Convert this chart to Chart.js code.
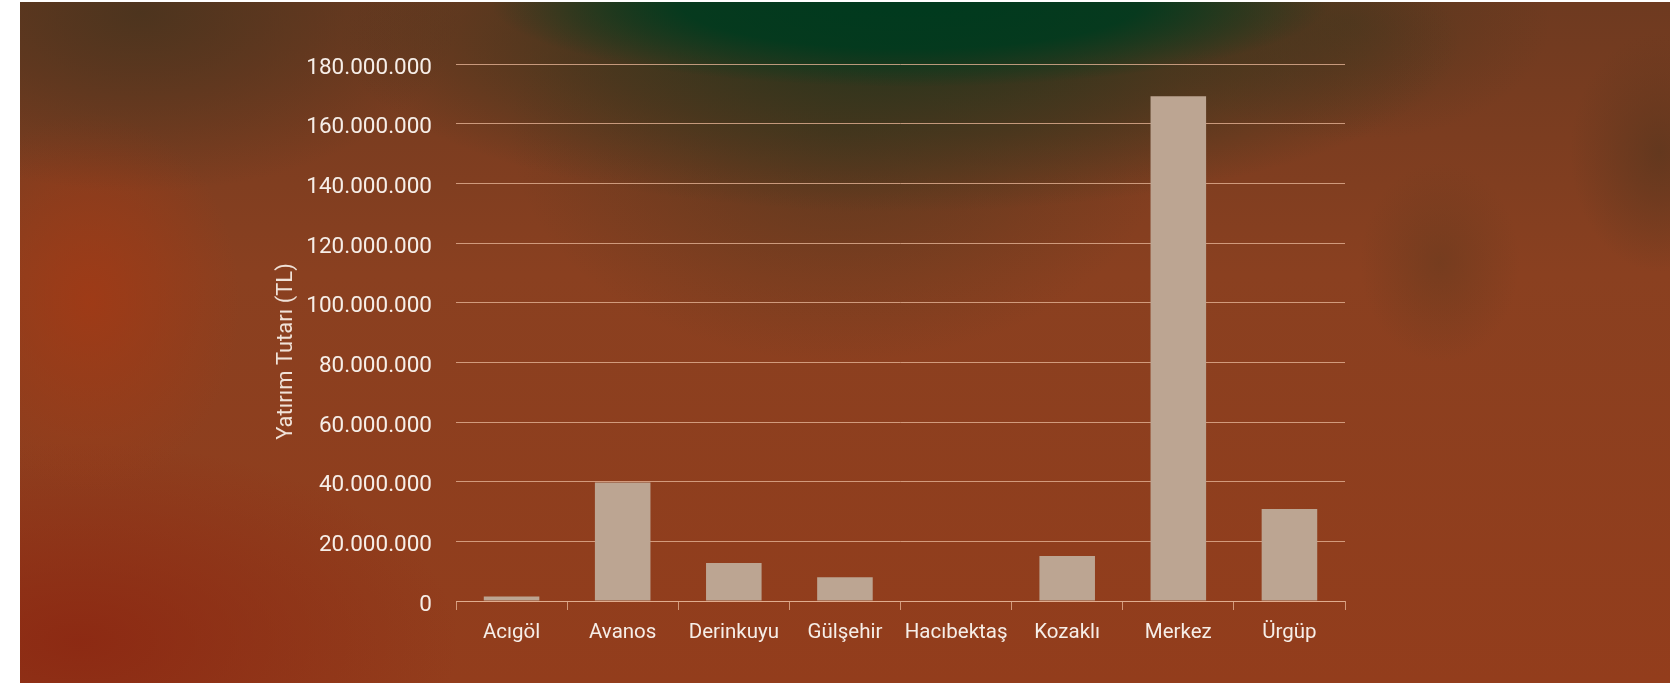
<!DOCTYPE html>
<html>
<head>
<meta charset="utf-8">
<script src="https://cdn.jsdelivr.net/npm/chart.js@4"></script>
<style>
  html, body { margin: 0; padding: 0; background: #fff; }
  #wrap {
    position: absolute; left: 20px; top: 2px; width: 1650px; height: 681px;
    background:
      radial-gradient(ellipse 420px 85px at 890px 0px, rgba(0,58,30,1) 0%, rgba(0,58,30,0.9) 55%, rgba(0,58,30,0) 100%),
      radial-gradient(ellipse 560px 170px at 880px 40px, rgba(30,52,28,0.9) 0%, rgba(50,52,28,0.6) 55%, rgba(60,50,25,0) 100%),
      radial-gradient(ellipse 330px 230px at 820px 130px, rgba(80,55,30,0.7) 0%, rgba(80,55,30,0) 100%),
      radial-gradient(ellipse 200px 120px at 1330px 20px, rgba(80,55,30,0.7) 0%, rgba(80,55,30,0) 100%),
      radial-gradient(ellipse 320px 180px at 120px 10px, rgba(75,52,30,0.95) 0%, rgba(75,52,30,0) 100%),
      radial-gradient(ellipse 150px 190px at 70px 300px, rgba(160,58,22,0.9) 0%, rgba(160,58,22,0) 100%),
      radial-gradient(ellipse 90px 120px at 1640px 150px, rgba(95,55,30,0.85) 0%, rgba(95,55,30,0) 100%),
      radial-gradient(ellipse 80px 100px at 1420px 260px, rgba(105,58,30,0.6) 0%, rgba(105,58,30,0) 100%),
      radial-gradient(ellipse 380px 200px at 60px 640px, rgba(140,40,18,0.9) 0%, rgba(140,40,18,0) 100%),
      linear-gradient(180deg, #6e3a20 0%, #8a4020 40%, #933d1c 100%);
  }
  canvas { display: block; }
</style>
</head>
<body>
<div id="wrap"><canvas id="chart" width="1650" height="681"></canvas></div>
<script>
const categories = ['Acıgöl', 'Avanos', 'Derinkuyu', 'Gülşehir', 'Hacıbektaş', 'Kozaklı', 'Merkez', 'Ürgüp'];
const investment = [1500000, 39700000, 12700000, 8000000, 0, 15100000, 169200000, 30800000];
const yTitle = 'Yatırım Tutarı (TL)';

const fmt = v => String(v).replace(/\B(?=(\d{3})+(?!\d))/g, '.');
const lineColor = 'rgba(228,178,148,0.8)';

// y title drawn by hand, it sits a bit lower than the axis centre
const yTitlePlugin = {
  id: 'yTitle',
  afterDraw(chart) {
    const { ctx, chartArea } = chart;
    const y = chart.scales.y;
    ctx.save();
    ctx.translate(y.left + 14, (chartArea.top + chartArea.bottom) / 2 + 19);
    ctx.rotate(-Math.PI / 2);
    ctx.font = '22px Roboto';
    ctx.fillStyle = '#f0e2d8';
    ctx.textAlign = 'center';
    ctx.textBaseline = 'middle';
    ctx.fillText(yTitle, 0, 0);
    ctx.restore();
  }
};

const ctx = document.getElementById('chart').getContext('2d');
new Chart(ctx, {
  type: 'bar',
  data: {
    labels: categories,
    datasets: [{
      data: investment,
      backgroundColor: '#bca592',
      barPercentage: 0.5,
      categoryPercentage: 1.0
    }]
  },
  options: {
    responsive: false,
    animation: false,
    layout: { padding: { left: 252, right: 325, top: 62, bottom: 0 } },
    plugins: { legend: { display: false }, tooltip: { enabled: false } },
    scales: {
      x: {
        grid: { drawOnChartArea: false, drawTicks: true, tickLength: 9, color: lineColor, lineWidth: 1 },
        border: { color: lineColor, width: 1 },
        ticks: { color: '#f6eee8', font: { family: 'Roboto', size: 20.5 }, padding: 11, maxRotation: 0 },
        afterFit: s => { s.height = 82; }
      },
      y: {
        min: 0, max: 180000000,
        ticks: {
          stepSize: 20000000, color: '#f6eee8', padding: 24, labelOffset: 4,
          font: { family: 'Roboto', size: 22.5 },
          callback: v => fmt(v)
        },
        grid: { drawTicks: false, color: lineColor, lineWidth: 1 },
        border: { display: false },
        afterFit: s => { s.width = 184; }
      }
    }
  },
  plugins: [yTitlePlugin]
});
</script>
</body>
</html>
